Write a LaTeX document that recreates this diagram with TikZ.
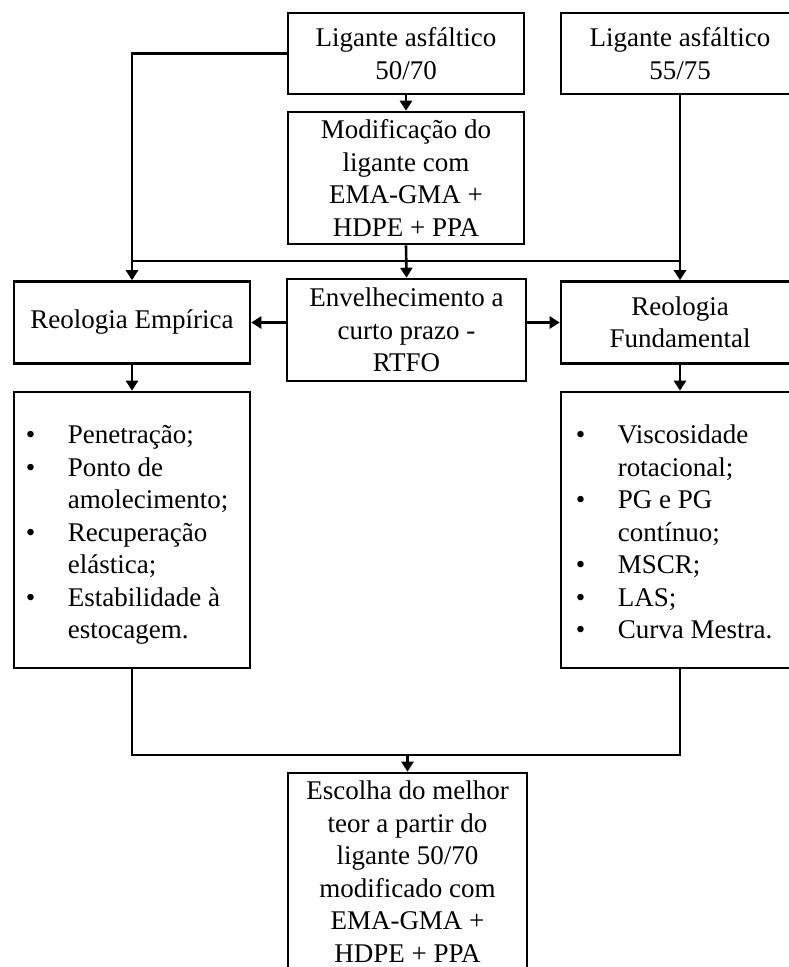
\documentclass[tikz,border=0pt]{standalone}
\usepackage{fontspec}
\setmainfont{Liberation Serif}
\usetikzlibrary{arrows.meta}
\newcommand\itm[1]{\makebox[42pt][l]{•}#1}
\newcommand\cnt[1]{\hspace*{42pt}#1}
\begin{document}
\begin{tikzpicture}[x=1pt,y=-1pt,
  box/.style={draw, line width=2.6pt, rectangle, align=center, inner sep=0pt,
    font=\fontsize{27}{32.5}\selectfont},
  conn/.style={line width=2.6pt},
  arr/.style={line width=2.6pt, -{Triangle[length=10pt,width=12pt]}},
  lst/.style={align=left, inner sep=0pt, font=\fontsize{27}{32.5}\selectfont}]
\useasboundingbox (0,0) rectangle (789,967);
\clip (0,0) rectangle (789,967);
\fill[white] (0,0) rectangle (789,967);
% boxes
\node[box, minimum width=236pt, minimum height=81pt] (A) at (406,53.5) {Ligante asfáltico\\50/70};
\node[box, minimum width=238pt, minimum height=81pt] (B) at (680,53.5) {Ligante asfáltico\\55/75};
\node[box, minimum width=236pt, minimum height=132pt] (M) at (406,178) {Modificação do\\ligante com\\EMA-GMA +\\HDPE + PPA};
\node[box, minimum width=236pt, minimum height=82pt] (E) at (132,322.5) {Reologia Empírica};
\node[box, minimum width=239pt, minimum height=102pt] (R) at (406.5,330) {Envelhecimento a\\curto prazo -\\RTFO};
\node[box, minimum width=238pt, minimum height=82pt] (F) at (680,322.5) {Reologia\\Fundamental};
\node[box, minimum width=236pt, minimum height=276pt] (LE) at (132,530) {};
\node[box, minimum width=238pt, minimum height=276pt] (LF) at (680,530) {};
\node[box, minimum width=239pt, minimum height=202pt] (Z) at (407.5,874) {};
\node[box, draw=none, anchor=north] (Zt) at ([yshift=-8pt]Z.north) {Escolha do melhor\\teor a partir do\\ligante 50/70\\modificado com\\EMA-GMA +\\HDPE + PPA};
% list texts
\node[lst, anchor=west] (LEt) at ([xshift=13pt,yshift=-5pt]LE.west) {\itm{Penetração;}\\\itm{Ponto de}\\\cnt{amolecimento;}\\\itm{Recuperação}\\\cnt{elástica;}\\\itm{Estabilidade à}\\\cnt{estocagem.}};
\node[lst, anchor=west] (LFt) at ([xshift=16pt,yshift=-2pt]LF.west) {\itm{Viscosidade}\\\cnt{rotacional;}\\\itm{PG e PG}\\\cnt{contínuo;}\\\itm{MSCR;}\\\itm{LAS;}\\\itm{Curva Mestra.}};
% junction coordinates
\coordinate (jL) at (132,261);
\coordinate (jR) at (680,261);
\coordinate (bL) at (132,755);
\coordinate (bR) at (680,755);
\coordinate (bM) at (407.5,755);
% connectors
\draw[arr] (A.west) -| (E.north);
\draw[arr] (A.south) -- (M.north);
\draw[arr] (M.south) -- (R.north);
\draw[arr] (B.south) -- (F.north);
\draw[conn] (jL) -- (jR);
\draw[arr] (E.east -| R.west) -- (E.east);
\draw[arr] (F.west -| R.east) -- (F.west);
\draw[arr] (E.south) -- (LE.north);
\draw[arr] (F.south) -- (LF.north);
\draw[conn] (LE.south) -- (bL) -- (bR) -- (LF.south);
\draw[arr] (bM) -- (Z.north);
\end{tikzpicture}
\end{document}
